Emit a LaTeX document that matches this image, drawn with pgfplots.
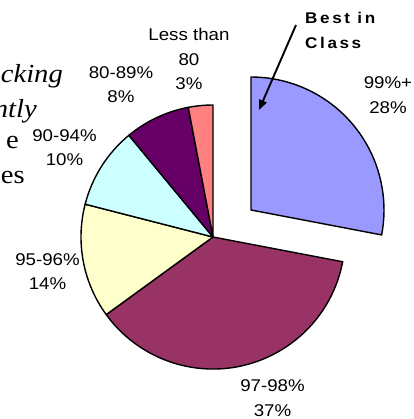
\documentclass[border=0pt]{standalone}
\usepackage{pgfplots}
\pgfplotsset{compat=1.18}
\usepackage{pgfplotstable}
\usetikzlibrary{arrows.meta}
\usepackage{fontspec}
\setmainfont{Liberation Sans}
\newfontfamily\labfont[FakeStretch=1.1]{Liberation Sans}
\newfontfamily\bestfont[FakeStretch=1.1,LetterSpace=17]{Liberation Sans Bold}
\newfontfamily\serfont[FakeStretch=1.1]{Liberation Serif}
\definecolor{pieA}{HTML}{9999FF}
\definecolor{pieB}{HTML}{993366}
\definecolor{pieC}{HTML}{FFFFCC}
\definecolor{pieD}{HTML}{CCFFFF}
\definecolor{pieE}{HTML}{660066}
\definecolor{pieF}{HTML}{FF8080}
% share of each class, %
\pgfplotstableread{
idx value
0 28
1 37
2 14
3 10
4 8
5 3
}\piedata
\newcommand\getslice[1]{\pgfplotstablegetelem{#1}{value}\of\piedata\pgfmathsetmacro\sliceang{\pgfplotsretval*3.6}}
\begin{document}%
\begin{tikzpicture}
\pgfmathsetmacro\aA{90}%
\getslice{0}\pgfmathsetmacro\aB{\aA-\sliceang}%
\getslice{1}\pgfmathsetmacro\aC{\aB-\sliceang}%
\getslice{2}\pgfmathsetmacro\aD{\aC-\sliceang}%
\getslice{3}\pgfmathsetmacro\aE{\aD-\sliceang}%
\getslice{4}\pgfmathsetmacro\aF{\aE-\sliceang}%
\getslice{5}\pgfmathsetmacro\aG{\aF-\sliceang}%
\begin{axis}[hide axis, x=1bp, y=1bp, y dir=reverse,
  xmin=0, xmax=414, ymin=0, ymax=419, clip=false, scale only axis]
\coordinate (BL) at (axis cs:0,419);
\coordinate (TR) at (axis cs:414,0);
\tikzset{sl/.style={draw=black, line width=1.4bp, line join=round}}
% exploded slice
\filldraw[sl, fill=pieA] (axis cs:251,210) -- ++(\aA:133bp) arc[start angle=\aA, end angle=\aB, radius=133bp] -- cycle;
\filldraw[sl, fill=pieB] (axis cs:213,237) -- ++(\aB:132bp) arc[start angle=\aB, end angle=\aC, radius=132bp] -- cycle;
\filldraw[sl, fill=pieC] (axis cs:213,237) -- ++(\aC:132bp) arc[start angle=\aC, end angle=\aD, radius=132bp] -- cycle;
\filldraw[sl, fill=pieD] (axis cs:213,237) -- ++(\aD:132bp) arc[start angle=\aD, end angle=\aE, radius=132bp] -- cycle;
\filldraw[sl, fill=pieE] (axis cs:213,237) -- ++(\aE:132bp) arc[start angle=\aE, end angle=\aF, radius=132bp] -- cycle;
\filldraw[sl, fill=pieF] (axis cs:213,237) -- ++(\aF:132bp) arc[start angle=\aF, end angle=\aG, radius=132bp] -- cycle;
% labels
\tikzset{lab/.style={inner sep=0pt, align=center, font=\labfont\fontsize{17bp}{24.5bp}\selectfont}}
\node[lab] at (axis cs:189,59) {Less than\\80\\3\%};
\node[lab] at (axis cs:121,84.5) {80-89\%\\8\%};
\node[lab] at (axis cs:64.5,147.5) {90-94\%\\10\%};
\node[lab] at (axis cs:47.5,271.5) {95-96\%\\14\%};
\node[lab] at (axis cs:272.5,398) {97-98\%\\37\%};
\node[lab] at (axis cs:388,95) {99\%+\\28\%};
\node[inner sep=0pt, anchor=west, align=left, font=\bestfont\fontsize{15.5bp}{25bp}\selectfont] at (axis cs:305,30.5) {Best in\\Class};
\draw[-{Triangle[length=10bp,width=8bp]}, line width=1.9bp] (axis cs:296,25) -- (axis cs:259,110);
% clipped slide text at left
\node[inner sep=0pt, anchor=base east, font=\serfont\itshape\fontsize{26bp}{30bp}\selectfont] at (axis cs:63,82) {cking};
\node[inner sep=0pt, anchor=base east, font=\serfont\itshape\fontsize{26bp}{30bp}\selectfont] at (axis cs:37,117) {ntly};
\node[inner sep=0pt, anchor=base east, font=\serfont\fontsize{26bp}{30bp}\selectfont] at (axis cs:19,148) {e};
\node[inner sep=0pt, anchor=base east, font=\serfont\fontsize{26bp}{30bp}\selectfont] at (axis cs:25,183) {es};
\end{axis}
\pgfresetboundingbox
\path[use as bounding box] (BL) rectangle (TR);
\end{tikzpicture}%
\end{document}
